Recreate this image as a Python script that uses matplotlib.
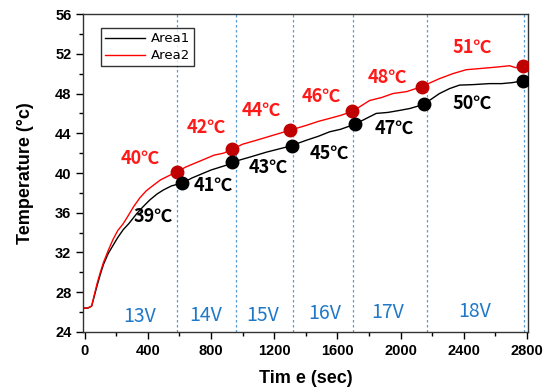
import matplotlib
matplotlib.use('Agg')
import matplotlib.pyplot as plt

# data
t_red = [0, 20, 45, 60, 80, 100, 120, 150, 180, 210, 245, 280, 310, 350, 390, 430, 480, 530, 583,
         640, 700, 760, 820, 880, 936, 1000, 1088, 1193, 1299, 1404, 1480, 1551, 1620, 1695,
         1804, 1880, 1951, 2040, 2133, 2246, 2330, 2415, 2490, 2562, 2630, 2689, 2730, 2777]
T_red = [26.4, 26.4, 26.6, 27.6, 28.9, 30.0, 31.0, 32.2, 33.3, 34.2, 34.9, 35.8, 36.6, 37.5, 38.2, 38.7, 39.3, 39.7, 40.1,
         40.6, 41.0, 41.4, 41.8, 42.0, 42.4, 42.9, 43.3, 43.8, 44.3, 44.8, 45.2, 45.5, 45.8, 46.2,
         47.3, 47.6, 48.0, 48.2, 48.7, 49.5, 50.0, 50.4, 50.5, 50.6, 50.7, 50.8, 50.6, 50.8]

t_blk = [0, 20, 45, 60, 80, 100, 120, 150, 180, 210, 245, 280, 330, 370, 414, 460, 500, 550, 620,
         680, 740, 800, 860, 900, 936, 1046, 1151, 1299, 1404, 1480, 1551, 1620, 1709,
         1846, 1920, 1993, 2060, 2145, 2246, 2310, 2373, 2460, 2562, 2640, 2708, 2777]
T_blk = [26.4, 26.4, 26.6, 27.5, 28.7, 29.8, 30.8, 31.9, 32.7, 33.5, 34.3, 34.9, 35.9, 36.6, 37.3, 37.9, 38.3, 38.7, 39.0,
         39.5, 39.9, 40.3, 40.6, 40.8, 41.1, 41.6, 42.1, 42.7, 43.3, 43.7, 44.15, 44.4, 44.9,
         46.0, 46.1, 46.3, 46.5, 46.9, 48.0, 48.5, 48.85, 48.9, 49.0, 49.0, 49.1, 49.3]

mk_t_red = [583, 936, 1299, 1695, 2133, 2777]
mk_T_red = [40.1, 42.4, 44.3, 46.2, 48.7, 50.8]
mk_t_blk = [620, 936, 1315, 1709, 2145, 2777]
mk_T_blk = [39.0, 41.1, 42.7, 44.9, 46.9, 49.3]

step_lines = [583, 957, 1320, 1699, 2166, 2779]

red_labels = ['40℃', '42℃', '44℃', '46℃', '48℃', '51℃']
red_lab_t = [351, 768, 1120, 1499, 1918, 2455]
red_lab_T = [41.5, 44.6, 46.3, 47.7, 49.65, 52.7]

blk_labels = ['39℃', '41℃', '43℃', '45℃', '47℃', '50℃']
blk_lab_t = [433, 812, 1160, 1551, 1962, 2455]
blk_lab_T = [35.6, 38.8, 40.6, 42.0, 44.5, 47.0]

volt_labels = ['13V', '14V', '15V', '16V', '17V', '18V']
volt_t = [351, 768, 1128, 1519, 1918, 2468]
volt_T = [25.6, 25.7, 25.7, 25.9, 26.0, 26.1]

lab_font = ['Noto Sans CJK KR', 'DejaVu Sans']

fig = plt.figure(figsize=(5.55, 3.91), dpi=100)
ax = fig.add_axes([0.150, 0.151, 0.801, 0.813])

for x in step_lines:
    ax.axvline(x, ymin=0, ymax=1, color='#5b9bd5', lw=0.9, ls=(0, (2, 2)), zorder=1)

ax.plot(t_blk, T_blk, color='black', lw=1.0, label='Area1', zorder=3)
ax.plot(t_red, T_red, color='red', lw=1.0, label='Area2', zorder=3)
ax.plot(mk_t_red, mk_T_red, 'o', color='#c00000', ms=9, zorder=4)
ax.plot(mk_t_blk, mk_T_blk, 'o', color='black', ms=9, zorder=4)

for s, x, y in zip(red_labels, red_lab_t, red_lab_T):
    ax.text(x, y, s, color='#ff1a1a', fontsize=13, fontweight='bold', family=lab_font,
            ha='center', va='center', zorder=5)
for s, x, y in zip(blk_labels, blk_lab_t, blk_lab_T):
    ax.text(x, y, s, color='black', fontsize=13, fontweight='bold', family=lab_font,
            ha='center', va='center', zorder=5)
for s, x, y in zip(volt_labels, volt_t, volt_T):
    ax.text(x, y, s, color='#1f78c8', fontsize=14, family=lab_font,
            ha='center', va='center', zorder=5)

ax.set_xlim(-8, 2805)
ax.set_ylim(24, 56)
ax.set_xticks(range(0, 2801, 400))
ax.set_xticks(range(0, 2801, 200), minor=True)
ax.set_yticks(range(24, 57, 4))
ax.set_yticks(range(24, 57, 2), minor=True)
ax.tick_params(which='major', direction='out', length=5, width=1, top=False, right=False)
ax.tick_params(which='minor', direction='out', length=3, width=1, top=False, right=False)
for lab in ax.get_xticklabels() + ax.get_yticklabels():
    lab.set_family('Liberation Sans')
    lab.set_fontweight('bold')
    lab.set_fontsize(10.5)
for sp in ax.spines.values():
    sp.set_linewidth(1.0)
    sp.set_color('#333333')

ax.set_xlabel('Tim e (sec)', fontsize=13, fontweight='bold', family='Liberation Sans', labelpad=9)
ax.set_ylabel('Temperature (°c)', fontsize=13, fontweight='bold', family='Liberation Sans', labelpad=15)

leg = ax.legend(loc='upper left', bbox_to_anchor=(0.04, 0.955), fontsize=9.5, frameon=True,
                fancybox=False, edgecolor='black', handlelength=3, borderpad=0.3,
                labelspacing=0.3, handletextpad=0.5, borderaxespad=0)
leg.get_frame().set_linewidth(1.0)
leg.set_zorder(6)

fig.savefig('out.png', dpi=100)
